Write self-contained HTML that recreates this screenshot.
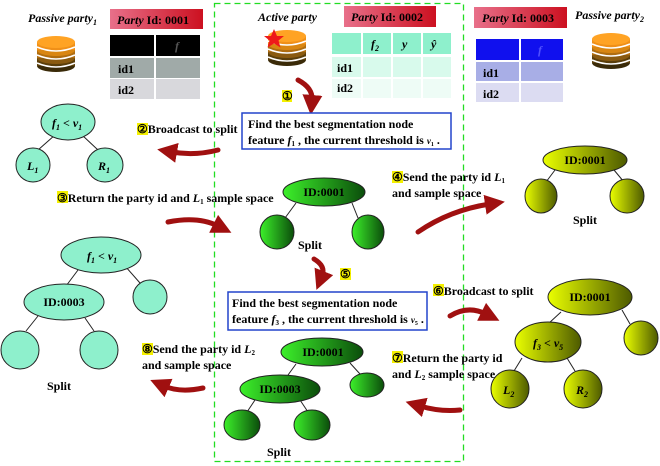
<!DOCTYPE html>
<html><head><meta charset="utf-8"><style>
html,body{margin:0;padding:0;background:#fff}
svg{display:block}
text{font-family:"Liberation Serif",serif;font-size:12px;font-weight:bold;fill:#000}
.it{font-style:italic}
.hl{fill:#f4f000}
</style></head><body>
<svg width="660" height="466" viewBox="0 0 660 466" xmlns="http://www.w3.org/2000/svg">
<defs>
<linearGradient id="g" x1="0" x2="1"><stop offset="0" stop-color="#3cf02a"/><stop offset="1" stop-color="#0b4d0b"/></linearGradient>
<linearGradient id="y" x1="0" x2="1"><stop offset="0" stop-color="#eaff00"/><stop offset="1" stop-color="#4d5a00"/></linearGradient>
<linearGradient id="r" x1="0" x2="1"><stop offset="0" stop-color="#e8708a"/><stop offset="1" stop-color="#cc1020"/></linearGradient>
<g id="db">
<ellipse cx="0" cy="30" rx="19" ry="6" fill="#3a2a08"/>
<rect x="-19" y="22" width="38" height="8" fill="#5a3e0a"/>
<ellipse cx="0" cy="22" rx="19" ry="6" fill="#8a5a10"/>
<rect x="-19" y="14" width="38" height="8" fill="#b06d10"/>
<ellipse cx="0" cy="14" rx="19" ry="6" fill="#d98612"/>
<rect x="-19" y="6" width="38" height="8" fill="#f09018"/>
<ellipse cx="0" cy="6" rx="19" ry="6" fill="#ffa324"/>
<path d="M-19 11 Q0 19 19 11 M-19 19 Q0 27 19 19 M-19 27 Q0 35 19 27" stroke="#fff" stroke-width="1.5" fill="none"/>
</g>
<marker id="ah" markerWidth="4" markerHeight="4" refX="1" refY="2" orient="auto" markerUnits="strokeWidth"><path d="M0,0 L4,2 L0,4 z" fill="#a01010"/></marker>
</defs>

<rect x="214.5" y="3.5" width="249" height="458" fill="none" stroke="#22dd22" stroke-width="1.3" stroke-dasharray="6,4"/>

<text x="28" y="22" class="it">Passive party<tspan font-size="8" dy="3">1</tspan></text>
<use href="#db" x="56" y="36"/>
<rect x="110" y="9" width="93" height="20" fill="url(#r)"/>
<text x="117" y="24" font-size="12"><tspan class="it">Party</tspan> Id: 0001</text>
<rect x="110" y="35" width="44" height="21" fill="#000"/><rect x="156" y="35" width="44" height="21" fill="#000"/>
<text x="175" y="50" class="it" font-weight="normal" style="fill:#555">f</text>
<rect x="110" y="58" width="44" height="20" fill="#a0aaa8"/><rect x="156" y="58" width="44" height="20" fill="#a0aaa8"/>
<rect x="110" y="79" width="44" height="20" fill="#d8d8dc"/><rect x="156" y="79" width="44" height="20" fill="#d8d8dc"/>
<text x="118" y="73">id1</text><text x="118" y="94">id2</text>

<text x="258" y="21" class="it">Active party</text>
<use href="#db" x="287" y="30"/>
<path d="M274,29 l3,7 7,0 -5.5,4.5 2,7 -6.5,-4 -6.5,4 2,-7 -5.5,-4.5 7,0z" fill="#ee1a1a"/>
<rect x="344" y="6" width="92" height="21" fill="url(#r)"/>
<text x="351" y="21"><tspan class="it">Party</tspan> Id: 0002</text>
<g fill="#8ef0cc"><rect x="332" y="33" width="29" height="21"/><rect x="363" y="33" width="28" height="21"/><rect x="393" y="33" width="28" height="21"/><rect x="423" y="33" width="28" height="21"/></g>
<g fill="#d8faec"><rect x="332" y="57" width="29" height="20"/><rect x="363" y="57" width="28" height="20"/><rect x="393" y="57" width="28" height="20"/><rect x="423" y="57" width="28" height="20"/></g>
<g fill="#eefcf6"><rect x="332" y="79" width="29" height="19"/><rect x="363" y="79" width="28" height="19"/><rect x="393" y="79" width="28" height="19"/><rect x="423" y="79" width="28" height="19"/></g>
<text x="371" y="48" class="it">f<tspan font-size="8" dy="3">2</tspan></text>
<text x="402" y="48" class="it">y</text><text x="431" y="48" class="it">ŷ</text>
<text x="337" y="72">id1</text><text x="337" y="92">id2</text>

<rect x="474" y="7" width="93" height="21" fill="url(#r)"/>
<text x="482" y="22"><tspan class="it">Party</tspan> Id: 0003</text>
<rect x="476" y="39" width="43" height="21" fill="#1010ee"/><rect x="521" y="39" width="42" height="21" fill="#1010ee"/>
<text x="538" y="54" class="it" style="fill:#5050ff" font-weight="normal">f</text>
<rect x="476" y="62" width="43" height="19" fill="#a8aee6"/><rect x="521" y="62" width="42" height="19" fill="#a8aee6"/>
<rect x="476" y="83" width="43" height="19" fill="#dcdcf2"/><rect x="521" y="83" width="42" height="19" fill="#dcdcf2"/>
<text x="483" y="77">id1</text><text x="483" y="98">id2</text>
<text x="575" y="19" class="it">Passive party<tspan font-size="8" dy="3">2</tspan></text>
<use href="#db" x="611" y="33"/>

<g stroke="#a01010" fill="none" stroke-width="5" marker-end="url(#ah)" stroke-linecap="round">
<path d="M298,80 Q313,88 312,100"/>
<path d="M218,150 Q195,156 172,152"/>
<path d="M168,222 Q198,216 218,226"/>
<path d="M418,232 Q450,210 490,204"/>
<path d="M314,259 Q326,266 322,276"/>
<path d="M450,316 Q468,305 486,314"/>
<path d="M460,410 Q440,412 420,406"/>
<path d="M203,388 Q180,393 164,386"/>
</g>

<rect x="282" y="90" width="10" height="12" class="hl"/><text x="282" y="100">①</text>
<rect x="137" y="123" width="11" height="12" class="hl"/><text x="137" y="133">②Broadcast to split</text>
<rect x="57" y="191" width="11" height="12" class="hl"/><text x="57" y="202">③Return the party id and <tspan class="it">L</tspan><tspan font-size="7" dy="2">1</tspan><tspan dy="-2"> sample space</tspan></text>
<rect x="392" y="171" width="11" height="12" class="hl"/><text x="392" y="181">④Send the party id <tspan class="it">L</tspan><tspan font-size="7" dy="2">1</tspan></text>
<text x="392" y="197">and  sample space</text>
<rect x="340" y="268" width="11" height="12" class="hl"/><text x="340" y="278">⑤</text>
<rect x="433" y="284" width="11" height="12" class="hl"/><text x="433" y="295">⑥Broadcast to split</text>
<rect x="392" y="351" width="11" height="12" class="hl"/><text x="392" y="362">⑦Return the party id</text>
<text x="392" y="378">and <tspan class="it">L</tspan><tspan font-size="7" dy="2">2</tspan><tspan dy="-2"> sample space</tspan></text>
<rect x="142" y="343" width="11" height="12" class="hl"/><text x="142" y="353">⑧Send the party id  <tspan class="it">L</tspan><tspan font-size="7" dy="2">2</tspan></text>
<text x="142" y="369">and sample space</text>

<rect x="242" y="113" width="209" height="36" fill="#fff" stroke="#2244cc" stroke-width="1.5"/>
<text x="248" y="128">Find the best segmentation node</text>
<text x="248" y="144">feature <tspan class="it">f</tspan><tspan font-size="7" dy="2">1</tspan><tspan dy="-2"> , the current threshold is </tspan><tspan class="it" font-size="9">v</tspan><tspan font-size="6" dy="2">1</tspan><tspan dy="-2"> .</tspan></text>
<rect x="228" y="292" width="199" height="38" fill="#fff" stroke="#2244cc" stroke-width="1.5"/>
<text x="232" y="307">Find the best segmentation node</text>
<text x="232" y="323">feature <tspan class="it">f</tspan><tspan font-size="7" dy="2">3</tspan><tspan dy="-2"> , the current threshold is </tspan><tspan class="it" font-size="9">v</tspan><tspan font-size="6" dy="2">5</tspan><tspan dy="-2"> .</tspan></text>

<g stroke="#222" stroke-width="1">
<line x1="55" y1="135" x2="38" y2="150"/><line x1="82" y1="135" x2="98" y2="150"/>
<ellipse cx="68" cy="122" rx="27" ry="18" fill="#8ef0cc"/>
<ellipse cx="33" cy="165" rx="17" ry="17" fill="#8ef0cc"/>
<ellipse cx="105" cy="165" rx="18" ry="17" fill="#8ef0cc"/>
<line x1="296" y1="203" x2="285" y2="218"/><line x1="352" y1="203" x2="358" y2="218"/>
<ellipse cx="324" cy="192" rx="41" ry="14" fill="url(#g)"/>
<ellipse cx="277" cy="232" rx="17" ry="17" fill="url(#g)"/>
<ellipse cx="368" cy="232" rx="16" ry="17" fill="url(#g)"/>
<line x1="555" y1="170" x2="546" y2="182"/><line x1="614" y1="170" x2="624" y2="182"/>
<ellipse cx="585" cy="160" rx="42" ry="14" fill="url(#y)"/>
<ellipse cx="541" cy="196" rx="16" ry="17" fill="url(#y)"/>
<ellipse cx="627" cy="196" rx="17" ry="17" fill="url(#y)"/>
<line x1="78" y1="270" x2="66" y2="286"/><line x1="125" y1="266" x2="140" y2="283"/>
<line x1="38" y1="316" x2="26" y2="331"/><line x1="85" y1="318" x2="94" y2="331"/>
<ellipse cx="101" cy="255" rx="40" ry="18" fill="#8ef0cc"/>
<ellipse cx="150" cy="297" rx="17" ry="17" fill="#8ef0cc"/>
<ellipse cx="64" cy="302" rx="40" ry="18" fill="#8ef0cc"/>
<ellipse cx="20" cy="350" rx="19" ry="19" fill="#8ef0cc"/>
<ellipse cx="99" cy="350" rx="19" ry="19" fill="#8ef0cc"/>
<line x1="296" y1="364" x2="288" y2="375"/><line x1="350" y1="363" x2="360" y2="374"/>
<line x1="255" y1="400" x2="247" y2="412"/><line x1="300" y1="400" x2="308" y2="412"/>
<ellipse cx="322" cy="352" rx="41" ry="14" fill="url(#g)"/>
<ellipse cx="367" cy="385" rx="17" ry="12" fill="url(#g)"/>
<ellipse cx="280" cy="389" rx="40" ry="14" fill="url(#g)"/>
<ellipse cx="242" cy="425" rx="18" ry="15" fill="url(#g)"/>
<ellipse cx="312" cy="425" rx="18" ry="15" fill="url(#g)"/>
<line x1="561" y1="312" x2="548" y2="324"/><line x1="622" y1="310" x2="630" y2="324"/>
<line x1="522" y1="358" x2="514" y2="371"/><line x1="567" y1="358" x2="575" y2="371"/>
<ellipse cx="590" cy="297" rx="42" ry="18" fill="url(#y)"/>
<ellipse cx="641" cy="338" rx="17" ry="17" fill="url(#y)"/>
<ellipse cx="548" cy="342" rx="33" ry="20" fill="url(#y)"/>
<ellipse cx="510" cy="389" rx="19" ry="19" fill="url(#y)"/>
<ellipse cx="583" cy="389" rx="19" ry="19" fill="url(#y)"/>
</g>

<text x="52" y="127" class="it" font-size="13">f<tspan font-size="8" dy="3">1</tspan><tspan dy="-3"> &lt; v</tspan><tspan font-size="8" dy="3">1</tspan></text>
<text x="27" y="170" class="it" font-size="13">L<tspan font-size="8" dy="3">1</tspan></text>
<text x="98" y="170" class="it" font-size="13">R<tspan font-size="8" dy="3">1</tspan></text>
<text x="324" y="196" text-anchor="middle">ID:0001</text>
<text x="310" y="249" text-anchor="middle">Split</text>
<text x="585" y="164" text-anchor="middle">ID:0001</text>
<text x="585" y="224" text-anchor="middle">Split</text>
<text x="87" y="260" class="it" font-size="13">f<tspan font-size="8" dy="3">1</tspan><tspan dy="-3"> &lt; v</tspan><tspan font-size="8" dy="3">1</tspan></text>
<text x="64" y="306" text-anchor="middle">ID:0003</text>
<text x="59" y="390" text-anchor="middle">Split</text>
<text x="323" y="356" text-anchor="middle">ID:0001</text>
<text x="280" y="393" text-anchor="middle">ID:0003</text>
<text x="279" y="456" text-anchor="middle">Split</text>
<text x="590" y="301" text-anchor="middle">ID:0001</text>
<text x="533" y="347" class="it" font-size="13">f<tspan font-size="8" dy="3">3</tspan><tspan dy="-3"> &lt; v</tspan><tspan font-size="8" dy="3">5</tspan></text>
<text x="503" y="394" class="it" font-size="13">L<tspan font-size="8" dy="3">2</tspan></text>
<text x="576" y="394" class="it" font-size="13">R<tspan font-size="8" dy="3">2</tspan></text>
</svg>
</body></html>
